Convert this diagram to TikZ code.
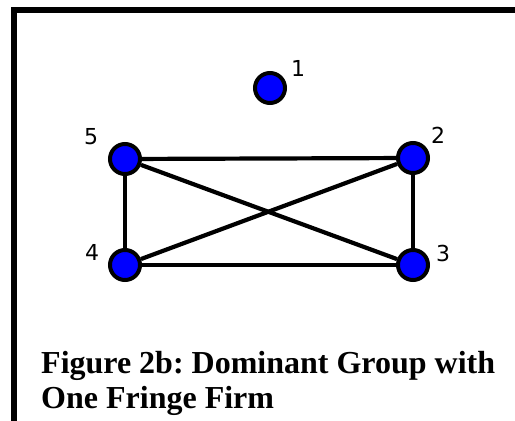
\documentclass[tikz,border=0pt]{standalone}
\usepackage{fontspec}
\setmainfont{Liberation Serif}
\newfontfamily\digitfont{DejaVu Sans}
\frenchspacing
\tikzset{
  firm/.style={circle, draw, line width=4pt, fill=blue, minimum size=30pt, inner sep=0pt},
  firmlabel/.style={font=\digitfont\fontsize{22}{22}\selectfont},
  link/.style={line width=4.2pt}
}
\begin{document}
\begin{tikzpicture}[x=1pt,y=1pt]
    \useasboundingbox (0,0) rectangle (515,421);
    % frame
    \draw[line width=6pt] (14,0) -- (14,411) -- (515,411);

    % the fringe firm
    \node[firm] (f1) at (270,333) {};
    \node[firmlabel] at (298,353) {1};

    % the dominant group
    \node[firm] (f5) at (125,262) {};
    \node[firm] (f2) at (413,263) {};
    \node[firm] (f4) at (125,156) {};
    \node[firm] (f3) at (413,156) {};
    \node[firmlabel] at (91,284) {5};
    \node[firmlabel] at (438,286) {2};
    \node[firmlabel] at (92,169) {4};
    \node[firmlabel] at (443,168) {3};

    \begin{scope}[on background layer/.try]
    \draw[link] (f5) -- (f2);
    \draw[link] (f4) -- (f3);
    \draw[link] (f5) -- (f4);
    \draw[link] (f2) -- (f3);
    \draw[link] (f5) -- (f3);
    \draw[link] (f4) -- (f2);
    \end{scope}

    % caption
    \node[anchor=base west, align=left, inner sep=0pt,
          font=\bfseries\fontsize{32}{36}\selectfont] (caption) at (41,12)
      {Figure 2b: Dominant Group with\\One Fringe Firm};
\end{tikzpicture}
\end{document}
